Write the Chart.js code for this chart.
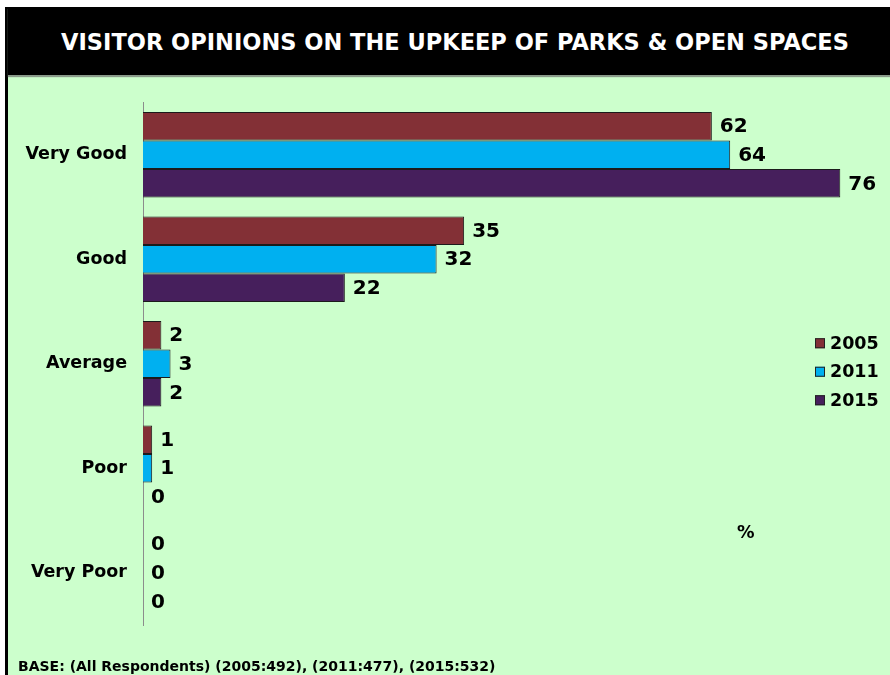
<!DOCTYPE html>
<html>
<head>
<meta charset="utf-8">
<script src="https://cdn.jsdelivr.net/npm/chart.js@4/dist/chart.umd.min.js"></script>
<style>
  html, body { margin: 0; padding: 0; background: #ffffff; }
  body { width: 890px; height: 675px; position: relative; overflow: hidden; font-family: "DejaVu Sans", Verdana, sans-serif; }
  #frame { position: absolute; left: 5px; top: 7px; width: 885px; height: 668px; background: #ccffcc; border-left: 3px solid #000; box-sizing: border-box; }
  #header { position: absolute; left: 0; top: 0; right: 0; height: 68px; background: #000; color: #fff; font-weight: bold; font-size: 22.5px; text-align: center; line-height: 70px; padding-left: 12px; box-shadow: 0 2px 1px #8a9a8a; }
  #wrap { position: absolute; left: 8px; top: 76px; width: 882px; height: 599px; }
  #footer { position: absolute; left: 18px; top: 658px; font-size: 14px; font-weight: bold; color: #000; white-space: nowrap; }
</style>
</head>
<body>
<div id="frame"><div id="header">VISITOR OPINIONS ON THE UPKEEP OF PARKS &amp; OPEN SPACES</div></div>
<div id="wrap"><canvas id="chart" width="882" height="599"></canvas></div>
<div id="footer">BASE: (All Respondents) (2005:492), (2011:477), (2015:532)</div>
<script>
// Survey answers, percent of respondents
const categories = ["Very Good", "Good", "Average", "Poor", "Very Poor"];
const years = ["2005", "2011", "2015"];
const values2005 = [62, 35, 2, 1, 0];
const values2011 = [64, 32, 3, 1, 0];
const values2015 = [76, 22, 2, 0, 0];
const seriesColors = ["#833036", "#00b0f0", "#461f5c"];

const seriesValues = [values2005, values2011, values2015];

// Value labels next to each bar end
const valueLabels = {
  id: "valueLabels",
  afterDatasetsDraw(chart) {
    const ctx = chart.ctx;
    ctx.save();
    ctx.font = "bold 20px 'DejaVu Sans', Verdana, sans-serif";
    ctx.fillStyle = "#000";
    ctx.textAlign = "left";
    ctx.textBaseline = "middle";
    chart.data.datasets.forEach((ds, i) => {
      chart.getDatasetMeta(i).data.forEach((bar, j) => {
        ctx.fillText(String(ds.data[j]), bar.x + 8, bar.y + 1);
      });
    });
    ctx.restore();
  }
};

// Stacked legend on the right and the unit marker
const sideLegend = {
  id: "sideLegend",
  afterDraw(chart) {
    const ctx = chart.ctx;
    const area = chart.chartArea;
    ctx.save();
    ctx.font = "bold 17.5px 'DejaVu Sans', Verdana, sans-serif";
    ctx.textBaseline = "middle";
    ctx.textAlign = "left";
    const x0 = 807;
    const mid = (area.top + area.bottom) / 2;
    chart.data.datasets.forEach((ds, i) => {
      const y = mid + 8 + (i - 1) * 28.5;
      ctx.fillStyle = ds.backgroundColor;
      ctx.fillRect(x0, y - 5, 10, 10);
      ctx.strokeStyle = "#222";
      ctx.lineWidth = 1;
      ctx.strokeRect(x0 + 0.5, y - 4.5, 9, 9);
      ctx.fillStyle = "#000";
      ctx.fillText(ds.label, x0 + 15, y + 1);
    });
    ctx.fillText("%", 729, 457);
    ctx.restore();
  }
};

new Chart(document.getElementById("chart"), {
  type: "bar",
  data: {
    labels: categories,
    datasets: years.map((y, i) => ({
      label: y,
      data: seriesValues[i],
      backgroundColor: seriesColors[i],
      borderColor: "#1b1b1b",
      borderWidth: 1,
      categoryPercentage: 0.82,
      barPercentage: 1.0
    }))
  },
  options: {
    indexAxis: "y",
    responsive: false,
    animation: false,
    layout: { padding: { top: 25, bottom: 50, left: 0, right: 13 } },
    plugins: {
      legend: { display: false },
      tooltip: { enabled: false },
      title: { display: false }
    },
    scales: {
      x: {
        display: false,
        min: 0,
        max: 80
      },
      y: {
        afterFit(scale) { scale.width = 135; },
        grid: { display: false, drawTicks: false },
        border: { display: true, color: "#8c8c8c", width: 1 },
        ticks: {
          color: "#000",
          padding: 16,
          font: { family: "'DejaVu Sans', Verdana, sans-serif", size: 17.5, weight: "bold" }
        }
      }
    }
  },
  plugins: [valueLabels, sideLegend]
});
</script>
</body>
</html>
